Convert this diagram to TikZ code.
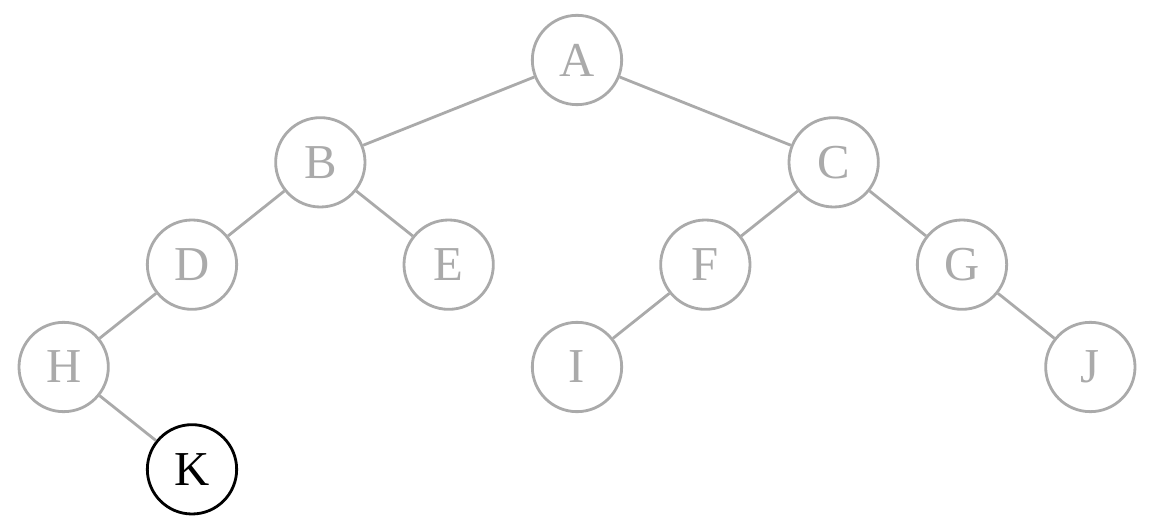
\documentclass[tikz,border=0pt]{standalone}
\usepackage{fontspec}
\setmainfont{Liberation Serif}
\usepackage{tikz}
\definecolor{faded}{RGB}{170,170,170}

\begin{document}
\begin{tikzpicture}[
    x=0.9625cm, y=0.7675cm,
    vert/.style={draw=faded, text=faded, circle, semithick, minimum size=6.7mm, inner sep=0pt, font=\fontsize{10.4}{12}\selectfont},
    hit/.style={vert, draw=black, text=black},
    edge/.style={draw=faded, semithick}
]
\useasboundingbox (-4.3275cm,0.45cm) rectangle (4.3125cm,-3.54cm);
\node[vert] (A) at (0,0) {A};
\node[vert] (B) at (-2,-1) {B};
\node[vert] (C) at (2,-1) {C};
\node[vert] (D) at (-3,-2) {D};
\node[vert] (E) at (-1,-2) {E};
\node[vert] (F) at (1,-2) {F};
\node[vert] (G) at (3,-2) {G};
\node[vert] (H) at (-4,-3) {H};
\node[vert] (I) at (0,-3) {I};
\node[vert] (J) at (4,-3) {J};
\node[hit] (K) at (-3,-4) {K};
\foreach \u/\v in {A/B, A/C, B/D, B/E, C/F, C/G, D/H, F/I, G/J, H/K}
    \draw[edge] (\u) -- (\v);
\end{tikzpicture}
\end{document}
